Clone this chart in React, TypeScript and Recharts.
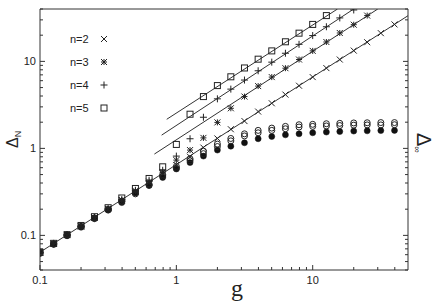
import React from 'react';
import { ComposedChart, Line, Scatter, XAxis, YAxis, Legend, Label } from 'recharts';

// coupling values (log spaced) shared by every data set
const gValues = [0.1, 0.126, 0.158, 0.2, 0.251, 0.316, 0.398, 0.501, 0.631, 0.794, 1, 1.26, 1.58, 2, 2.51, 3.16, 3.98, 5.01, 6.31, 7.94, 10, 12.6, 15.8, 20, 25.1, 31.6, 39.8];

const gapN2 = [0.064, 0.08, 0.101, 0.127, 0.16, 0.201, 0.253, 0.318, 0.4, 0.51, 0.645, 0.8, 1.02, 1.3, 1.66, 2.06, 2.65, 3.3, 4.15, 5.25, 6.6, 8.37, 10.5, 13.3, 16.6, 21.1, 26.6];
const gapN3 = [0.064, 0.08, 0.101, 0.127, 0.16, 0.202, 0.255, 0.325, 0.415, 0.53, 0.733, 0.956, 1.32, 1.99, 2.89, 3.94, 5.2, 6.6, 8.35, 10.5, 13.2, 16.7, 21.2, 26.4, 33.6];
const gapN4 = [0.064, 0.081, 0.102, 0.128, 0.161, 0.203, 0.258, 0.33, 0.43, 0.56, 0.815, 1.29, 2.28, 3.71, 4.8, 6.1, 7.8, 9.8, 12.4, 15.7, 19.8, 25, 31.6, 39];
const gapN5 = [0.064, 0.081, 0.102, 0.13, 0.164, 0.208, 0.269, 0.346, 0.451, 0.614, 1.11, 2.47, 3.94, 5.27, 6.65, 8.4, 10.6, 13.2, 16.8, 21.1, 26.6, 33.6];

// saturating gaps (circles)
const gapOpenA = [0.064, 0.08, 0.101, 0.127, 0.159, 0.199, 0.248, 0.31, 0.39, 0.5, 0.62, 0.76, 0.93, 1.12, 1.3, 1.47, 1.61, 1.71, 1.79, 1.87, 1.89, 1.92, 1.94, 1.96, 1.97, 1.98, 1.98];
const gapOpenB = [0.063, 0.079, 0.1, 0.126, 0.158, 0.197, 0.245, 0.3, 0.375, 0.48, 0.59, 0.72, 0.87, 1.05, 1.22, 1.39, 1.51, 1.61, 1.68, 1.76, 1.79, 1.81, 1.83, 1.85, 1.86, 1.86, 1.87];
const gapFilled = [0.062, 0.079, 0.099, 0.124, 0.155, 0.195, 0.238, 0.308, 0.377, 0.463, 0.58, 0.686, 0.815, 0.956, 1.06, 1.16, 1.29, 1.37, 1.43, 1.47, 1.51, 1.54, 1.56, 1.58, 1.59, 1.6, 1.61];

// asymptotic straight lines: endpoints
const lineN2G = [0.1, 50];
const lineN2V = [0.064, 33.5];
const lineN3G = [0.69, 30];
const lineN3V = [0.86, 40];
const lineN4G = [0.78, 20];
const lineN4V = [1.42, 40];
const lineN5G = [0.85, 15.2];
const lineN5V = [2.16, 40];

const xTicks = [0.1, 0.2, 0.3, 0.4, 0.5, 0.6, 0.7, 0.8, 0.9, 1, 2, 3, 4, 5, 6, 7, 8, 9, 10, 20, 30, 40];
const yTicks = [0.04, 0.05, 0.06, 0.07, 0.08, 0.09, 0.1, 0.2, 0.3, 0.4, 0.5, 0.6, 0.7, 0.8, 0.9, 1, 2, 3, 4, 5, 6, 7, 8, 9, 10, 20, 30, 40];

const legendItems = [
  { label: 'n=2', shape: 'cross' },
  { label: 'n=3', shape: 'star' },
  { label: 'n=4', shape: 'plus' },
  { label: 'n=5', shape: 'square' },
];

const toRows = (vals: number[]) => vals.map((v, i) => ({ g: gValues[i], v }));
const toLine = (gs: number[], vs: number[]) => gs.map((g, i) => ({ g, v: vs[i] }));

const INK = '#222';
const FONT = '"Liberation Sans", Arial, sans-serif';

const isMajor = (v: number) => Math.abs(Math.log10(v) - Math.round(Math.log10(v))) < 1e-6;

const Marker = ({ shape, cx, cy }: { shape: string; cx: number; cy: number }) => {
  const s = 3;
  switch (shape) {
    case 'cross':
      return (
        <g stroke={INK} strokeWidth={1}>
          <line x1={cx - s} y1={cy - s} x2={cx + s} y2={cy + s} />
          <line x1={cx - s} y1={cy + s} x2={cx + s} y2={cy - s} />
        </g>
      );
    case 'star':
      return (
        <g stroke={INK} strokeWidth={1}>
          <line x1={cx - s} y1={cy - s} x2={cx + s} y2={cy + s} />
          <line x1={cx - s} y1={cy + s} x2={cx + s} y2={cy - s} />
          <line x1={cx - s} y1={cy} x2={cx + s} y2={cy} />
          <line x1={cx} y1={cy - s} x2={cx} y2={cy + s} />
        </g>
      );
    case 'plus':
      return (
        <g stroke={INK} strokeWidth={1}>
          <line x1={cx - 3.5} y1={cy} x2={cx + 3.5} y2={cy} />
          <line x1={cx} y1={cy - 3.5} x2={cx} y2={cy + 3.5} />
        </g>
      );
    case 'square':
      return <rect x={cx - 3} y={cy - 3} width={6} height={6} fill="none" stroke={INK} strokeWidth={1} />;
    case 'open':
      return <circle cx={cx} cy={cy} r={3} fill="none" stroke={INK} strokeWidth={1} />;
    default:
      return <circle cx={cx} cy={cy} r={3} fill="#111" stroke="#111" strokeWidth={0.5} />;
  }
};

const shapeOf = (shape: string) => (p: any) => <Marker shape={shape} cx={p.cx} cy={p.cy} />;

const fmt = (v: number) => (v < 1 ? String(v) : String(Math.round(v)));

const BottomTick = (p: any) => {
  const v = p.payload.value;
  const major = isMajor(v);
  return (
    <g>
      <line x1={p.x} x2={p.x} y1={p.y} y2={p.y - (major ? 5 : 3)} stroke="#333" />
      {major && (
        <text x={p.x} y={p.y + 14} textAnchor="middle" fontSize={11} fontFamily={FONT} fill={INK}>
          {fmt(v)}
        </text>
      )}
    </g>
  );
};

const TopTick = (p: any) => {
  const major = isMajor(p.payload.value);
  return <line x1={p.x} x2={p.x} y1={p.y} y2={p.y + (major ? 5 : 3)} stroke="#333" />;
};

const LeftTick = (p: any) => {
  const v = p.payload.value;
  const major = isMajor(v);
  return (
    <g>
      <line x1={p.x} x2={p.x + (major ? 5 : 3)} y1={p.y} y2={p.y} stroke="#333" />
      {major && (
        <text x={p.x - 4} y={p.y + 4} textAnchor="end" fontSize={11} fontFamily={FONT} fill={INK}>
          {fmt(v)}
        </text>
      )}
    </g>
  );
};

const RightTick = (p: any) => {
  const major = isMajor(p.payload.value);
  return <line x1={p.x} x2={p.x - (major ? 5 : 3)} y1={p.y} y2={p.y} stroke="#333" />;
};

const renderLegend = () => (
  <div style={{ fontFamily: FONT, fontSize: 11, color: INK }}>
    {legendItems.map((it) => (
      <div key={it.label} style={{ display: 'flex', alignItems: 'center', height: 23 }}>
        <span style={{ width: 29 }}>{it.label}</span>
        <svg width={10} height={10}>
          <Marker shape={it.shape} cx={5} cy={5} />
        </svg>
      </div>
    ))}
  </div>
);

export default function App() {
  return (
    <div>
      <style>{`body{margin:0}`}</style>
      <ComposedChart width={437} height={305} margin={{ top: 0, right: 0, bottom: 0, left: 0 }}>
        <XAxis
          xAxisId="b"
          dataKey="g"
          type="number"
          scale="log"
          domain={[0.1, 50]}
          allowDataOverflow
          ticks={xTicks}
          interval={0}
          tickSize={0}
          tickMargin={0}
          tickLine={false}
          tick={BottomTick}
          height={35}
          stroke="#333"
        >
          <Label
            content={(lp: any) => (
              <text x={lp.viewBox.x + lp.viewBox.width / 2 + 13} y={lp.viewBox.y + 26} textAnchor="middle" fontSize={24} fontFamily='"Liberation Serif", "Times New Roman", serif' fill={INK}>
                g
              </text>
            )}
          />
        </XAxis>
        <XAxis
          xAxisId="t"
          orientation="top"
          type="number"
          scale="log"
          domain={[0.1, 50]}
          allowDataOverflow
          ticks={xTicks}
          interval={0}
          tickSize={0}
          tickMargin={0}
          tickLine={false}
          tick={TopTick}
          height={9}
          stroke="#333"
        />
        <YAxis
          yAxisId="l"
          type="number"
          scale="log"
          domain={[0.04, 40]}
          allowDataOverflow
          ticks={yTicks}
          interval={0}
          tickSize={0}
          tickMargin={0}
          tickLine={false}
          tick={LeftTick}
          width={40}
          stroke="#333"
        >
          <Label
            content={() => (
              <text transform="translate(18,148) rotate(-90)" fontSize={16} fontFamily={FONT} fill={INK}>
                Δ<tspan fontSize={9} dy={3}>N</tspan>
              </text>
            )}
          />
        </YAxis>
        <YAxis
          yAxisId="r"
          orientation="right"
          type="number"
          scale="log"
          domain={[0.04, 40]}
          allowDataOverflow
          ticks={yTicks}
          interval={0}
          tickSize={0}
          tickMargin={0}
          tickLine={false}
          tick={RightTick}
          width={29}
          stroke="#333"
        >
          <Label
            content={() => (
              <text transform="translate(417,133) rotate(90)" fontSize={20} fontFamily={FONT} fill={INK}>
                Δ<tspan fontSize={9} dy={3}>∞</tspan>
              </text>
            )}
          />
        </YAxis>
        <Legend
          verticalAlign="middle"
          align="center"
          layout="vertical"
          content={renderLegend}
          wrapperStyle={{ left: 70, top: 27, width: 50 }}
        />

        <Line xAxisId="b" yAxisId="l" data={toLine(lineN2G, lineN2V)} dataKey="v" stroke="#333" strokeWidth={1} dot={false} isAnimationActive={false} legendType="none" />
        <Line xAxisId="b" yAxisId="l" data={toLine(lineN3G, lineN3V)} dataKey="v" stroke="#333" strokeWidth={1} dot={false} isAnimationActive={false} legendType="none" />
        <Line xAxisId="b" yAxisId="l" data={toLine(lineN4G, lineN4V)} dataKey="v" stroke="#333" strokeWidth={1} dot={false} isAnimationActive={false} legendType="none" />
        <Line xAxisId="b" yAxisId="l" data={toLine(lineN5G, lineN5V)} dataKey="v" stroke="#333" strokeWidth={1} dot={false} isAnimationActive={false} legendType="none" />

        <Scatter xAxisId="b" yAxisId="l" data={toRows(gapFilled)} dataKey="v" shape={shapeOf('filled')} isAnimationActive={false} />
        <Scatter xAxisId="b" yAxisId="l" data={toRows(gapOpenB)} dataKey="v" shape={shapeOf('open')} isAnimationActive={false} />
        <Scatter xAxisId="b" yAxisId="l" data={toRows(gapOpenA)} dataKey="v" shape={shapeOf('open')} isAnimationActive={false} />
        <Scatter xAxisId="b" yAxisId="l" data={toRows(gapN2)} dataKey="v" shape={shapeOf('cross')} isAnimationActive={false} />
        <Scatter xAxisId="b" yAxisId="l" data={toRows(gapN3)} dataKey="v" shape={shapeOf('star')} isAnimationActive={false} />
        <Scatter xAxisId="b" yAxisId="l" data={toRows(gapN4)} dataKey="v" shape={shapeOf('plus')} isAnimationActive={false} />
        <Scatter xAxisId="b" yAxisId="l" data={toRows(gapN5)} dataKey="v" shape={shapeOf('square')} isAnimationActive={false} />
      </ComposedChart>
    </div>
  );
}
